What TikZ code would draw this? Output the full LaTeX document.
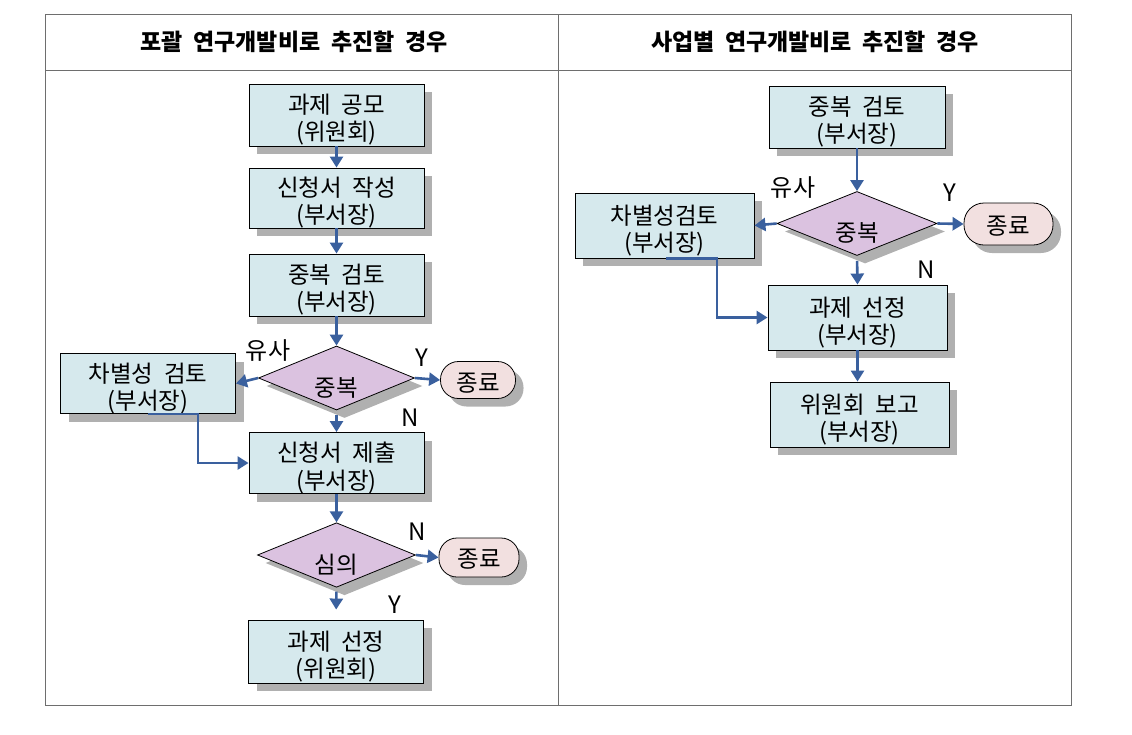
\documentclass[tikz,border=0pt]{standalone}
\usepackage{fontspec}
\setmainfont{Noto Sans CJK KR}[WordSpace=2]
\usetikzlibrary{shapes.geometric,shadows,arrows.meta}
\definecolor{boxfill}{RGB}{214,233,237}
\definecolor{diafill}{RGB}{219,194,224}
\definecolor{endfill}{RGB}{242,224,224}
\definecolor{shadowgray}{RGB}{176,176,176}
\definecolor{arrblue}{RGB}{58,96,158}
\definecolor{tablegray}{RGB}{110,110,110}
\newcommand{\twoline}[2]{\raisebox{-6.5pt}[\height][\depth]{\begin{tabular}{@{}c@{}}#1\\#2\end{tabular}}}
\newcommand{\lowtxt}[2]{\raisebox{-#1}[\height][\depth]{#2}}
\tikzset{
  x=1pt,y=1pt,
  shd/.style={drop shadow={shadow xshift=8pt,shadow yshift=-8pt,fill=shadowgray,opacity=1}},
  procbox/.style={draw=black,line width=0.9pt,fill=boxfill,shd,inner sep=0pt,align=center,
    font=\fontsize{23.5}{25.5}\selectfont},
  decbox/.style={diamond,draw=black,line width=0.8pt,fill=diafill,shd,inner sep=0pt,
    font=\fontsize{23.5}{25.5}\selectfont},
  endbox/.style={draw=black,line width=0.8pt,fill=endfill,shd,rounded corners=18pt,inner sep=0pt,
    font=\fontsize{23.5}{25.5}\selectfont},
  arr/.style={draw=arrblue,line width=2.6pt,-{Triangle[length=11pt,width=13pt]}},
  lbl/.style={font=\fontsize{24}{26}\selectfont,inner sep=0pt},
  hdr/.style={font=\fontsize{23}{24}\selectfont\bfseries,inner sep=0pt},
}
\begin{document}
\begin{tikzpicture}
\useasboundingbox (0,0) rectangle (1132,-734);
% table
\draw[tablegray,line width=1pt] (45,-14) rectangle (1071,-705);
\draw[tablegray,line width=1pt] (45,-70) -- (1071,-70);
\draw[tablegray,line width=1pt] (558,-14) -- (558,-705);
\node[hdr] (h1) at (294,-42) {포괄 연구개발비로 추진할 경우};
\node[hdr] (h2) at (815,-42) {사업별 연구개발비로 추진할 경우};
% left column
\node[procbox,minimum width=175pt,minimum height=62pt] (L1) at (336.5,-115) {\twoline{과제 공모}{(위원회)}};
\node[procbox,minimum width=175pt,minimum height=60pt] (L2) at (336.5,-198) {\twoline{신청서 작성}{(부서장)}};
\node[procbox,minimum width=175pt,minimum height=62pt] (L3) at (336.5,-285) {\twoline{중복 검토}{(부서장)}};
\node[decbox,minimum width=156pt,minimum height=60pt] (Ld) at (336.5,-378) {\lowtxt{10pt}{중복}};
\node[procbox,minimum width=175pt,minimum height=60pt] (Ls) at (148,-383.5) {\twoline{차별성 검토}{(부서장)}};
\node[endbox,minimum width=75pt,minimum height=37pt] (Le1) at (478,-380) {\lowtxt{3pt}{종료}};
\node[procbox,minimum width=175pt,minimum height=61pt] (L4) at (336.5,-463) {\twoline{신청서 제출}{(부서장)}};
\node[decbox,minimum width=158pt,minimum height=59pt] (Ld2) at (336.5,-555) {\lowtxt{10pt}{심의}};
\node[endbox,minimum width=80pt,minimum height=39pt] (Le2) at (479,-557.5) {\lowtxt{2pt}{종료}};
\node[procbox,minimum width=175pt,minimum height=63pt] (L5) at (336,-651.5) {\twoline{과제 선정}{(위원회)}};
\draw[arr] (L1) -- (L2);
\draw[arr] (L2) -- (L3);
\draw[arr] (L3) -- (Ld);
\draw[arr] (Ld.west) -- (Ls.east);
\draw[arr] (Ld.east) -- (Le1.west);
\draw[arr,shorten <=5pt] (Ld.south) -- (L4.north);
\draw[arr] (L4) -- (Ld2);
\draw[arr] (Ld2.east) -- (Le2.west);
\draw[arr,shorten <=4pt,shorten >=10pt] (Ld2.south) -- (L5.north);
\draw[arr] (Ls.south) -- ++(50,0) |- (L4.west);
\node[lbl] (t1) at (268,-351) {유사};
\node[lbl] (t2) at (422,-358) {Y};
\node[lbl] (t3) at (410,-418) {N};
\node[lbl] (t4) at (417,-532) {N};
\node[lbl] (t5) at (395,-605) {Y};
% right column
\node[procbox,minimum width=176pt,minimum height=62pt] (R1) at (857,-117) {\twoline{중복 검토}{(부서장)}};
\node[decbox,minimum width=160pt,minimum height=63pt] (Rd) at (857,-223.5) {\lowtxt{9pt}{중복}};
\node[procbox,minimum width=179pt,minimum height=65pt] (Rs) at (664.5,-225.5) {\twoline{차별성검토}{(부서장)}};
\node[endbox,minimum width=89pt,minimum height=42pt,rounded corners=20pt] (Re) at (1008.5,-224) {\lowtxt{2pt}{종료}};
\node[procbox,minimum width=179pt,minimum height=65pt] (R2) at (857.5,-317.5) {\twoline{과제 선정}{(부서장)}};
\node[procbox,minimum width=179pt,minimum height=65pt] (R3) at (859.5,-414.5) {\twoline{위원회 보고}{(부서장)}};
\draw[arr] (R1.south) -- (Rd.north);
\draw[arr] (Rd.west) -- (Rs.east);
\draw[arr] (Rd.east) -- (Re.west);
\draw[arr,shorten <=5pt] (Rd.south) -- (R2.north);
\draw[arr] (R2.south) -- (R2.south |- R3.north);
\draw[arr] ([xshift=1.5pt]Rs.south) -- ++(51,0) |- (R2.west);
\node[lbl] (u1) at (793,-188) {유사};
\node[lbl] (u2) at (950,-193) {Y};
\node[lbl] (u3) at (926,-270) {N};
\end{tikzpicture}
\end{document}
